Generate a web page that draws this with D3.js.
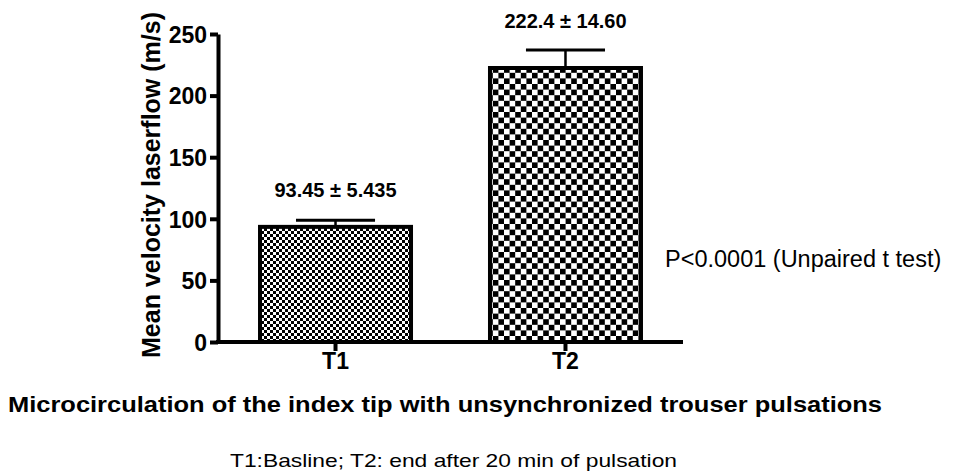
<!DOCTYPE html>
<html><head><meta charset="utf-8">
<script src="https://cdn.jsdelivr.net/npm/d3@7"></script>
<style>body{margin:0;background:#fff}svg{display:block}</style>
</head><body>
<script>
const categories = ["T1", "T2"];
const means = [93.45, 222.4];
const sems = [5.435, 14.60];
const valueLabels = ["93.45 ± 5.435", "222.4 ± 14.60"];
const yTicks = [0, 50, 100, 150, 200, 250];
const yTitle = "Mean velocity laserflow (m/s)";
const xTitle = "Microcirculation of the index tip with unsynchronized  trouser pulsations";
const pText = "P<0.0001 (Unpaired t test)";
const note = "T1:Basline; T2: end after 20 min of pulsation";

const W = 960, H = 475;
const svg = d3.select("body").append("svg").attr("width", W).attr("height", H);
const defs = svg.append("defs");
function checker(id, s) {
  const p = defs.append("pattern").attr("id", id).attr("patternUnits", "userSpaceOnUse")
    .attr("width", 2 * s).attr("height", 2 * s);
  p.append("rect").attr("width", 2 * s).attr("height", 2 * s).attr("fill", "#fff");
  p.append("rect").attr("width", s).attr("height", s).attr("fill", "#000");
  p.append("rect").attr("x", s).attr("y", s).attr("width", s).attr("height", s).attr("fill", "#000");
}
checker("pat0", 3);
checker("pat1", 5.6);

const x0 = 218, x1 = 683, yBottom = 342, yTop = 34;
const y = d3.scaleLinear().domain([0, 250]).range([yBottom, yTop]);
const x = d3.scaleBand().domain(categories).range([x0, x1]).paddingInner(0.326).paddingOuter(0.174);
const font = "'Liberation Sans', Arial, sans-serif";

// bars
const g = svg.append("g");
g.selectAll("rect.bar").data(categories).join("rect")
  .attr("x", (d, i) => x(d) + 2).attr("y", (d, i) => y(means[i]))
  .attr("width", x.bandwidth() - 4).attr("height", (d, i) => y(0) - y(means[i]))
  .attr("fill", (d, i) => `url(#pat${i})`).attr("stroke", "#000").attr("stroke-width", 4);

// error bars
categories.forEach((c, i) => {
  const cx = x(c) + x.bandwidth() / 2;
  const capW = x.bandwidth() * 0.51;
  g.append("line").attr("x1", cx).attr("x2", cx).attr("y1", y(means[i])).attr("y2", y(means[i] + sems[i]))
    .attr("stroke", "#000").attr("stroke-width", 2.5);
  g.append("line").attr("x1", cx - capW / 2).attr("x2", cx + capW / 2)
    .attr("y1", y(means[i] + sems[i])).attr("y2", y(means[i] + sems[i]))
    .attr("stroke", "#000").attr("stroke-width", 3);
  g.append("text").attr("x", cx).attr("y", i === 0 ? 197 : 28).attr("text-anchor", "middle")
    .attr("font-family", font).attr("font-weight", "bold").attr("font-size", 20)
    .text(valueLabels[i]);
});

// y axis
const yAxis = svg.append("g").attr("transform", `translate(${x0},0)`)
  .call(d3.axisLeft(y).tickValues(yTicks).tickSize(8).tickSizeOuter(0).tickPadding(3));
yAxis.select(".domain").attr("stroke-width", 4).attr("stroke", "#000");
yAxis.selectAll(".tick line").attr("stroke-width", 4).attr("stroke", "#000");
yAxis.selectAll(".tick text").attr("font-family", font).attr("font-weight", "bold")
  .attr("font-size", 23).attr("fill", "#000").attr("dy", "0.36em");

// x axis
const xAxis = svg.append("g").attr("transform", `translate(0,${yBottom})`)
  .call(d3.axisBottom(x).tickSize(9).tickSizeOuter(0).tickPadding(2));
xAxis.select(".domain").attr("stroke-width", 4).attr("stroke", "#000").attr("d", `M${x0 - 2},0H${x1}`);
xAxis.selectAll(".tick line").attr("stroke-width", 4).attr("stroke", "#000");
xAxis.selectAll(".tick text").attr("font-family", font).attr("font-weight", "bold")
  .attr("font-size", 23).attr("fill", "#000");

// y title
svg.append("text").attr("transform", `translate(160,185) rotate(-90)`).attr("text-anchor", "middle")
  .attr("font-family", font).attr("font-weight", "bold").attr("font-size", 25).text(yTitle);

// p text
svg.append("text").attr("x", 665).attr("y", 267).attr("font-family", font).attr("font-size", 23.5)
  .text(pText);

// x title
svg.append("text").attr("x", 8).attr("y", 412).attr("font-family", font).attr("font-weight", "bold")
  .attr("font-size", 22).attr("textLength", 874).attr("lengthAdjust", "spacingAndGlyphs").text(xTitle);

// note
svg.append("text").attr("x", 230).attr("y", 467).attr("font-family", font).attr("font-size", 19)
  .attr("textLength", 447).attr("lengthAdjust", "spacingAndGlyphs").text(note);
</script>
</body></html>
